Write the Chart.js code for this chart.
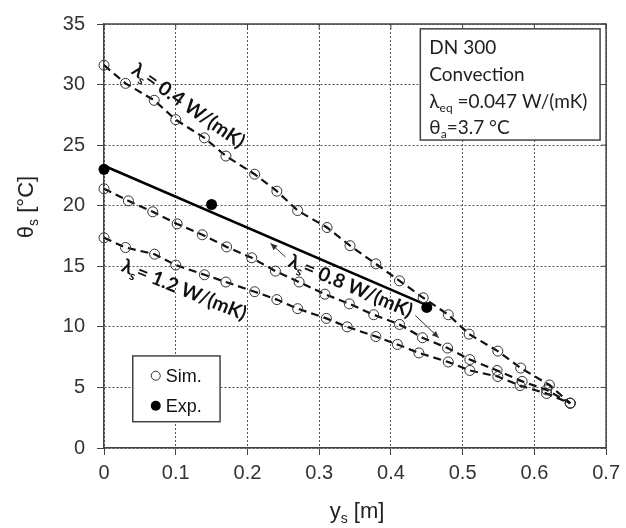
<!DOCTYPE html>
<html>
<head>
<meta charset="utf-8">
<script src="https://cdn.jsdelivr.net/npm/chart.js@4.4.1/dist/chart.umd.min.js"></script>
<style>
html,body{margin:0;padding:0;background:#fff;}
#wrap{width:626px;height:528px;position:relative;}
canvas{display:block;}
</style>
</head>
<body>
<div id="wrap"><canvas id="c" width="626" height="528" style="width:626px;height:528px"></canvas></div>
<script>
// ---------------- data ----------------
const X_TICKS = [0, 0.1, 0.2, 0.3, 0.4, 0.5, 0.6, 0.7];
const Y_TICKS = [0, 5, 10, 15, 20, 25, 30, 35];

// simulation, lambda_s = 0.4 W/(mK)
const sim04X = [0, 0.030, 0.070, 0.100, 0.140, 0.170, 0.210, 0.241, 0.270, 0.311, 0.343, 0.379, 0.412, 0.445, 0.480, 0.509, 0.549, 0.581, 0.621, 0.650];
const sim04Y = [31.6, 30.1, 28.7, 27.1, 25.6, 24.1, 22.6, 21.2, 19.6, 18.2, 16.7, 15.2, 13.8, 12.4, 11.0, 9.4, 8.0, 6.6, 5.2, 3.7];

// simulation, lambda_s = 0.8 W/(mK)
const sim08X = [0, 0.034, 0.068, 0.102, 0.137, 0.171, 0.206, 0.239, 0.272, 0.308, 0.342, 0.376, 0.412, 0.444, 0.479, 0.510, 0.548, 0.583, 0.617, 0.650];
const sim08Y = [21.4, 20.4, 19.5, 18.5, 17.6, 16.6, 15.7, 14.6, 13.7, 12.7, 11.9, 11.0, 10.2, 9.1, 8.25, 7.3, 6.4, 5.5, 4.8, 3.7];

// simulation, lambda_s = 1.2 W/(mK)
const sim12X = [0, 0.030, 0.0705, 0.100, 0.140, 0.170, 0.210, 0.241, 0.270, 0.310, 0.339, 0.379, 0.409, 0.439, 0.480, 0.510, 0.549, 0.580, 0.617, 0.650];
const sim12Y = [17.35, 16.55, 16.0, 15.1, 14.3, 13.7, 12.9, 12.25, 11.5, 10.7, 10.0, 9.2, 8.55, 7.85, 7.1, 6.4, 5.9, 5.15, 4.5, 3.7];

// experiment
const expX = [0, 0.15, 0.45];
const expY = [23.0, 20.1, 11.6];

// experimental trend line
const fitX = [0, 0.45];
const fitY = [23.3, 11.8];

// ---------------- annotation config ----------------
const SERIF_LIKE = 'Lato, "Open Sans", sans-serif';
const ARIAL = '"Liberation Sans", Arial, sans-serif';

const lineLabels = [
  {parts: [['λ',0],['s',1],['= 0.4 W/(mK)',0]], x: 0.118, y: 28.3, angle: 35},
  {parts: [['λ',0],['s',1],['= 0.8 W/(mK)',0]], x: 0.344, y: 13.4, angle: 23},
  {parts: [['λ',0],['s',1],['= 1.2 W/(mK)',0]], x: 0.112, y: 13.1, angle: 22}
];
const arrows = [
  {from: [0.253, 15.77], to: [0.232, 16.9]},
  {from: [0.434, 10.94], to: [0.467, 9.09]}
];
const infoLines = [
  [['DN 300',0]],
  [['Convection',0]],
  [['λ',0],['eq',1],[' =0.047 W/(mK)',0]],
  [['θ',0],['a',1],['=3.7 °C',0]]
];
const infoBox = {x0: 0.441, x1: 0.6916, y0: 34.6, y1: 25.42};
const legendBox = {x0: 0.0401, x1: 0.1618, y0: 7.6, y1: 2.17};

function pts(xs, ys){ return xs.map((x,i)=>({x:x, y:ys[i]})); }

function partsWidth(ctx, parts, size, fam, wt){
  let w = 0;
  for (const [t, sub] of parts){
    ctx.font = wt + ' ' + (sub ? Math.round(size*0.62) : size) + 'px ' + fam;
    w += ctx.measureText(t).width;
  }
  return w;
}
function drawParts(ctx, parts, x, y, size, fam, wt){
  let cx = x;
  for (const [t, sub] of parts){
    const s = sub ? Math.round(size*0.62) : size;
    ctx.font = wt + ' ' + s + 'px ' + fam;
    ctx.fillText(t, cx, sub ? y + size*0.22 : y);
    cx += ctx.measureText(t).width;
  }
}
function drawCentered(ctx, parts, cx, cy, size, fam, wt){
  const w = partsWidth(ctx, parts, size, fam, wt);
  drawParts(ctx, parts, cx - w/2, cy + size*0.35, size, fam, wt);
}

const annotPlugin = {
  id: 'annot',
  afterDraw(chart){
    const ctx = chart.ctx;
    const xs = chart.scales.x, ys = chart.scales.y;
    const ca = chart.chartArea;
    const px = v => xs.getPixelForValue(v), py = v => ys.getPixelForValue(v);
    ctx.save();
    ctx.textBaseline = 'alphabetic';
    ctx.textAlign = 'left';

    // top and right frame
    ctx.strokeStyle = '#444';
    ctx.lineWidth = 1.5;
    ctx.beginPath();
    ctx.moveTo(ca.left, ca.top); ctx.lineTo(ca.right, ca.top); ctx.lineTo(ca.right, ca.bottom);
    ctx.stroke();
    // inner mirrored ticks
    ctx.lineWidth = 1;
    ctx.beginPath();
    for (const t of X_TICKS){ const x = px(t); ctx.moveTo(x, ca.top); ctx.lineTo(x, ca.top + 5); }
    for (const t of Y_TICKS){ const y = py(t); ctx.moveTo(ca.right, y); ctx.lineTo(ca.right - 5, y); }
    ctx.stroke();

    // axis titles
    ctx.fillStyle = '#222';
    ctx.save();
    ctx.translate(25, 207);
    ctx.rotate(-Math.PI/2);
    drawCentered(ctx, [['θ',0],['s',1],[' [°C]',0]], 0, 0, 22, ARIAL, 'normal');
    ctx.restore();
    drawCentered(ctx, [['y',0],['s',1],[' [m]',0]], 357, 510, 22, ARIAL, 'normal');

    // rotated line labels
    ctx.fillStyle = '#111';
    for (const L of lineLabels){
      ctx.save();
      ctx.translate(px(L.x), py(L.y));
      ctx.rotate(L.angle * Math.PI/180);
      drawCentered(ctx, L.parts, 0, 0, 19.5, SERIF_LIKE, 'bold');
      ctx.restore();
    }

    // arrows
    ctx.strokeStyle = '#333';
    ctx.fillStyle = '#333';
    ctx.lineWidth = 1;
    for (const A of arrows){
      const x1 = px(A.from[0]), y1 = py(A.from[1]);
      const x2 = px(A.to[0]), y2 = py(A.to[1]);
      const ang = Math.atan2(y2 - y1, x2 - x1);
      ctx.beginPath(); ctx.moveTo(x1, y1); ctx.lineTo(x2, y2); ctx.stroke();
      const h = 7, w = 3;
      ctx.beginPath();
      ctx.moveTo(x2, y2);
      ctx.lineTo(x2 - h*Math.cos(ang) + w*Math.sin(ang), y2 - h*Math.sin(ang) - w*Math.cos(ang));
      ctx.lineTo(x2 - h*Math.cos(ang) - w*Math.sin(ang), y2 - h*Math.sin(ang) + w*Math.cos(ang));
      ctx.closePath(); ctx.fill();
    }

    // info box
    {
      const l = px(infoBox.x0), r = px(infoBox.x1), t = py(infoBox.y0), b = py(infoBox.y1);
      ctx.fillStyle = '#fff';
      ctx.fillRect(l, t, r - l, b - t);
      ctx.strokeStyle = '#444'; ctx.lineWidth = 1.5;
      ctx.strokeRect(l, t, r - l, b - t);
      ctx.fillStyle = '#222';
      infoLines.forEach((parts, i) => {
        drawParts(ctx, parts, l + 9, t + 18.7 + i*26.7 + 19*0.35, 19, SERIF_LIKE, 'normal');
      });
    }

    // legend box
    {
      const l = px(legendBox.x0), r = px(legendBox.x1), t = py(legendBox.y0), b = py(legendBox.y1);
      ctx.fillStyle = '#fff';
      ctx.fillRect(l, t, r - l, b - t);
      ctx.strokeStyle = '#444'; ctx.lineWidth = 1.5;
      ctx.strokeRect(l, t, r - l, b - t);
      const rowY = [b - 46, b - 16];
      ctx.lineWidth = 1; ctx.strokeStyle = '#333';
      ctx.beginPath(); ctx.arc(l + 23, rowY[0], 4.5, 0, Math.PI*2); ctx.stroke();
      ctx.fillStyle = '#000';
      ctx.beginPath(); ctx.arc(l + 23, rowY[1], 5, 0, Math.PI*2); ctx.fill();
      ctx.fillStyle = '#111';
      ctx.font = '18px ' + ARIAL;
      ctx.textBaseline = 'middle';
      ctx.fillText('Sim.', l + 33, rowY[0] + 1);
      ctx.fillText('Exp.', l + 33, rowY[1] + 1);
    }
    ctx.restore();
  }
};

const simStyle = {
  showLine: true,
  borderColor: '#111',
  borderWidth: 2.2,
  borderDash: [8, 5],
  pointStyle: 'circle',
  pointRadius: 5,
  pointBorderWidth: 1,
  pointBorderColor: '#333',
  pointBackgroundColor: 'rgba(0,0,0,0)',
  fill: false,
  clip: false,
  tension: 0
};

new Chart(document.getElementById('c'), {
  type: 'scatter',
  data: {
    datasets: [
      Object.assign({label: 'λs = 0.4 W/(mK)', data: pts(sim04X, sim04Y)}, simStyle),
      Object.assign({label: 'λs = 0.8 W/(mK)', data: pts(sim08X, sim08Y)}, simStyle),
      Object.assign({label: 'λs = 1.2 W/(mK)', data: pts(sim12X, sim12Y)}, simStyle),
      {label: 'Trend', data: pts(fitX, fitY), showLine: true, borderColor: '#000', borderWidth: 2.5, pointRadius: 0, clip: false},
      {label: 'Exp.', data: pts(expX, expY), showLine: false, pointStyle: 'circle', pointRadius: 5.5, pointBackgroundColor: '#000', pointBorderColor: '#000', pointBorderWidth: 0, clip: false}
    ]
  },
  options: {
    responsive: false,
    animation: false,
    devicePixelRatio: 1,
    layout: {padding: {left: 0, right: 16, top: 13, bottom: 0}},
    plugins: {legend: {display: false}, tooltip: {enabled: false}},
    scales: {
      x: {
        type: 'linear', min: 0, max: 0.7,
        afterBuildTicks: s => { s.ticks = X_TICKS.map(v => ({value: v})); },
        afterFit: s => { s.height = 80; },
        ticks: {
          color: '#333', font: {family: ARIAL, size: 20}, padding: 6,
          callback: v => String(Number(v.toFixed(1)))
        },
        grid: {color: '#555', lineWidth: 1, tickLength: 7, tickColor: '#444', tickBorderDash: []},
        border: {display: true, color: '#444', width: 1.5, dash: [2, 2]}
      },
      y: {
        type: 'linear', min: 0, max: 35,
        afterBuildTicks: s => { s.ticks = Y_TICKS.map(v => ({value: v})); },
        afterFit: s => { s.width = 104; },
        ticks: {color: '#333', font: {family: ARIAL, size: 20}, padding: 12},
        grid: {color: '#555', lineWidth: 1, tickLength: 7, tickColor: '#444', tickBorderDash: []},
        border: {display: true, color: '#444', width: 1.5, dash: [2, 2]}
      }
    }
  },
  plugins: [annotPlugin]
});
</script>
</body>
</html>
